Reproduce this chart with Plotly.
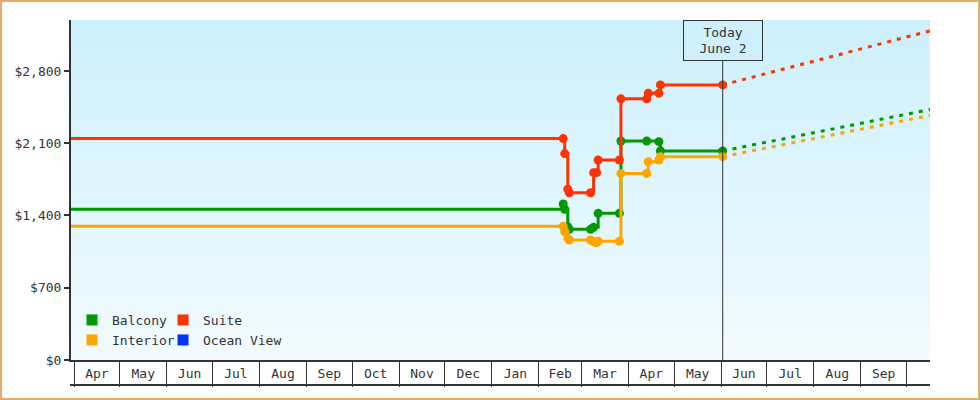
import base64
import pandas as pd
import plotly.graph_objects as go

# price history (hv steps) per cabin type
suite_dates = ["2024-03-29", "2025-02-17", "2025-02-18", "2025-02-20", "2025-02-21",
               "2025-03-07", "2025-03-09", "2025-03-11", "2025-03-12", "2025-03-26",
               "2025-03-27", "2025-04-13", "2025-04-14", "2025-04-21", "2025-04-22",
               "2025-06-02"]
suite_prices = [2145, 2145, 2000, 1655, 1620, 1620, 1815, 1815, 1938, 1938,
                2530, 2530, 2585, 2585, 2665, 2665]

balcony_dates = ["2024-03-29", "2025-02-17", "2025-02-18", "2025-02-20", "2025-02-21",
                 "2025-03-07", "2025-03-09", "2025-03-12", "2025-03-26", "2025-03-27",
                 "2025-04-13", "2025-04-21", "2025-04-22", "2025-06-02"]
balcony_prices = [1460, 1511, 1460, 1292, 1266, 1266, 1285, 1421, 1421, 2122,
                  2122, 2115, 2025, 2025]

interior_dates = ["2024-03-29", "2025-02-17", "2025-02-18", "2025-02-20", "2025-02-21",
                  "2025-03-07", "2025-03-09", "2025-03-11", "2025-03-12", "2025-03-26",
                  "2025-03-27", "2025-04-13", "2025-04-14", "2025-04-21", "2025-04-22",
                  "2025-06-02"]
interior_prices = [1295, 1295, 1243, 1179, 1163, 1163, 1146, 1135, 1150, 1150,
                   1808, 1808, 1921, 1938, 1970, 1970]

# projected prices from today to the end of the axis
today = "2025-06-02"
proj_end = "2025-10-16 12:00"
proj_end_prices = {"Suite": 3188, "Balcony": 2427, "Interior": 2369}

series = [
    ("Balcony", "#009900", balcony_dates, balcony_prices),
    ("Suite", "#ff3300", suite_dates, suite_prices),
    ("Interior", "#ffa500", interior_dates, interior_prices),
    ("Ocean View", "#0033ff", [], []),
]

# month boxes along the bottom (last box, October, has no label)
month_labels = ["Apr", "May", "Jun", "Jul", "Aug", "Sep", "Oct", "Nov", "Dec",
                "Jan", "Feb", "Mar", "Apr", "May", "Jun", "Jul", "Aug", "Sep"]
first_month = "2024-04-01"

y_ticks = [0, 700, 1400, 2100, 2800]
y_labels = ["$" + format(v, ",") for v in y_ticks]
x_range = ["2024-03-29 22:00", proj_end]
y_range = [0, 3294]

FONT = "DejaVu Sans Mono"
INK = "#333333"

month_starts = pd.date_range(first_month, periods=len(month_labels) + 1, freq="MS")
month_mids = month_starts[:-1] + (month_starts[1:] - month_starts[:-1]) / 2

fig = go.Figure()

for name, color, dates, prices in series:
    if dates:
        fig.add_trace(go.Scatter(
            x=dates, y=prices, mode="lines+markers", line_shape="hv",
            line=dict(color=color, width=3),
            marker=dict(color=color, size=9, symbol="circle"),
            cliponaxis=False, showlegend=False, name=name,
        ))
        fig.add_trace(go.Scatter(
            x=[dates[-1], proj_end], y=[prices[-1], proj_end_prices[name]],
            mode="lines", line=dict(color=color, width=3, dash="4px,6px"),
            showlegend=False, hoverinfo="skip",
        ))

pw, ph = 980 - 71 - 50, 400 - 20 - 40

# legend: one small legend per entry, 2 x 2 grid in the lower left
legend_spots = [(72, 320), (163, 320), (72, 340), (163, 340)]
legend_keys = ["legend", "legend2", "legend3", "legend4"]
legend_layout = {}
for (name, color, dates, prices), key, (lx, ly) in zip(series, legend_keys, legend_spots):
    fig.add_trace(go.Scatter(
        x=[None], y=[None], mode="markers", name=name, legend=key,
        marker=dict(color=color, size=11, symbol="square"),
    ))
    legend_layout[key] = dict(
        orientation="h", x=(lx - 71) / pw, y=(360 - ly) / ph,
        xanchor="left", yanchor="middle", bgcolor="rgba(0,0,0,0)",
        font=dict(family=FONT, size=13, color=INK),
    )

# vertical gradient background of the plot area
svg = ('<svg xmlns="http://www.w3.org/2000/svg" width="10" height="100" preserveAspectRatio="none">'
       '<defs><linearGradient id="g" x1="0" y1="0" x2="0" y2="1">'
       '<stop offset="0" stop-color="#ccf0fc"/><stop offset="1" stop-color="#f2fbff"/>'
       '</linearGradient></defs><rect width="10" height="100" fill="url(#g)"/></svg>')
bg_src = "data:image/svg+xml;base64," + base64.b64encode(svg.encode()).decode()

fig.update_layout(
    width=980, height=400,
    margin=dict(l=71, r=50, t=20, b=40),
    paper_bgcolor="white", plot_bgcolor="rgba(0,0,0,0)",
    font=dict(family=FONT, size=13, color=INK),
    images=[dict(source=bg_src, xref="paper", yref="paper", x=0, y=1,
                 sizex=1, sizey=1, sizing="stretch", layer="below")],
    xaxis=dict(
        type="date", range=x_range, showgrid=False, zeroline=False,
        showline=True, linecolor=INK, linewidth=2,
        tickmode="array", tickvals=month_mids, ticktext=month_labels, ticks="",
        minor=dict(tickmode="array", tickvals=month_starts, ticks="outside",
                   ticklen=25, tickwidth=1, tickcolor=INK, showgrid=False),
        ticklabelstandoff=0, tickfont=dict(size=13, color=INK),
    ),
    yaxis=dict(
        range=y_range, tickmode="array", tickvals=y_ticks, ticktext=y_labels,
        showgrid=False, zeroline=False, showline=True, linecolor=INK, linewidth=2,
        ticks="outside", ticklen=5, tickwidth=2, tickcolor=INK,
        tickfont=dict(size=13, color=INK),
    ),
    shapes=[
        # today marker line
        dict(type="line", xref="x", yref="paper", x0=today, x1=today,
             y0=0, y1=(360 - 61) / ph, line=dict(color=INK, width=1)),
        # bottom edge of the month boxes
        dict(type="line", xref="paper", yref="paper", x0=-1 / pw, x1=1,
             y0=-25 / ph, y1=-25 / ph, line=dict(color=INK, width=2)),
        # outer frame
        dict(type="rect", xref="paper", yref="paper",
             x0=-70 / pw, x1=1 + 49 / pw, y0=-39 / ph, y1=1 + 19 / ph,
             line=dict(color="#e8aa64", width=2)),
    ],
    annotations=[
        dict(x=today, y=1, xref="x", yref="paper", yanchor="top", xanchor="center",
             text="Today<br>June 2", showarrow=False, align="center",
             width=70, height=31, borderpad=4, borderwidth=1, bordercolor=INK,
             bgcolor="#cdf0fc", font=dict(family=FONT, size=13, color=INK)),
    ],
    **legend_layout,
)

fig.write_html("out.html", config={"displayModeBar": False},
               post_script="document.body.style.margin = '0';")
